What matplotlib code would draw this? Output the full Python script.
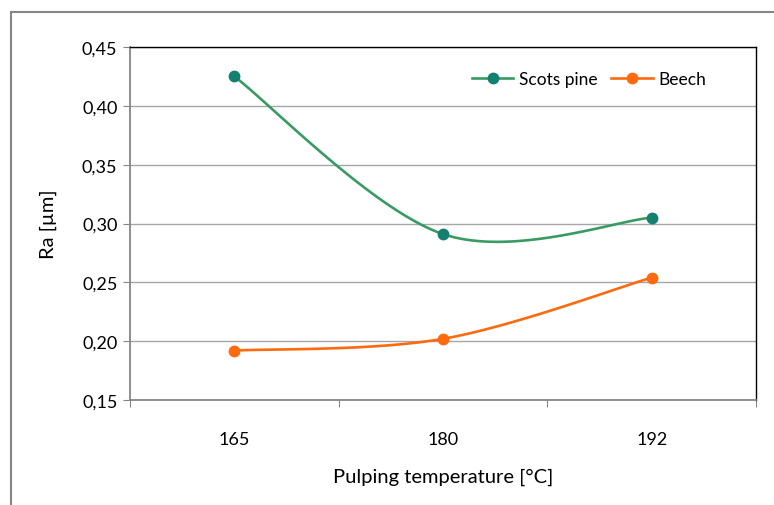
import matplotlib.pyplot as plt
import numpy as np
from matplotlib.lines import Line2D

categories = ["165", "180", "192"]
scots_pine = [0.425, 0.291, 0.305]
beech = [0.192, 0.202, 0.254]

plt.rcParams["font.family"] = ["Lato", "DejaVu Sans"]


def smooth(xs, ys, n=40):
    # Excel-style smoothed line: cubic Bezier through points
    xs = np.asarray(xs, float)
    ys = np.asarray(ys, float)
    px, py = [], []
    m = len(xs)
    for i in range(m - 1):
        x0, y0 = xs[i], ys[i]
        x3, y3 = xs[i + 1], ys[i + 1]
        xp, yp = (xs[i - 1], ys[i - 1]) if i > 0 else (x0, y0)
        xn, yn = (xs[i + 2], ys[i + 2]) if i + 2 < m else (x3, y3)
        x1, y1 = x0 + (x3 - xp) / 6, y0 + (y3 - yp) / 6
        x2, y2 = x3 - (xn - x0) / 6, y3 - (yn - y0) / 6
        t = np.linspace(0, 1, n)
        bx = (1 - t) ** 3 * x0 + 3 * (1 - t) ** 2 * t * x1 + 3 * (1 - t) * t ** 2 * x2 + t ** 3 * x3
        by = (1 - t) ** 3 * y0 + 3 * (1 - t) ** 2 * t * y1 + 3 * (1 - t) * t ** 2 * y2 + t ** 3 * y3
        px.extend(bx)
        py.extend(by)
    return px, py


fig = plt.figure(figsize=(7.74, 5.06), dpi=100)
ax = fig.add_axes([130 / 774, 105 / 506, 626 / 774, 353 / 506])

x = np.arange(len(categories)) + 0.5
series = [
    ("Scots pine", scots_pine, "#3a9a64", "#138072"),
    ("Beech", beech, "#ff6a0f", "#ff6a0f"),
]
handles = []
for name, vals, lc, mc in series:
    sx, sy = smooth(x, vals)
    ax.plot(sx, sy, color=lc, lw=1.9, zorder=3)
    ax.plot(x, vals, "o", color=mc, ms=7.5, zorder=4)
    handles.append(Line2D([], [], color=lc, lw=1.9, marker="o", ms=7.5,
                          markerfacecolor=mc, markeredgecolor=mc, label=name))

ax.set_xlim(0, 3)
ax.set_ylim(0.15, 0.45)
ax.set_yticks(np.arange(0.15, 0.451, 0.05))
ax.set_yticklabels([f"{v:.2f}".replace(".", ",") for v in np.arange(0.15, 0.451, 0.05)])
ax.set_xticks([0, 1, 2, 3])
ax.set_xticklabels([])
ax.set_xticks(x, minor=True)
ax.set_xticklabels(categories, minor=True)
ax.tick_params(axis="x", which="minor", length=0, pad=22, labelsize=13)
ax.tick_params(axis="x", which="major", length=5, color="#868686", direction="out")
ax.tick_params(axis="y", length=5, color="#868686", labelsize=13, pad=4)
ax.grid(axis="y", color="#a6a6a6", lw=1)
ax.set_axisbelow(True)

for s in ["top", "right"]:
    ax.spines[s].set_color("black")
    ax.spines[s].set_linewidth(1)
for s in ["left", "bottom"]:
    ax.spines[s].set_color("#868686")
    ax.spines[s].set_linewidth(1.3)

ax.set_xlabel("Pulping temperature [°C]", fontsize=14.5, labelpad=15)
ax.set_ylabel("Ra [µm]", fontsize=14.5, labelpad=18)

ax.legend(handles=handles, loc="upper right", bbox_to_anchor=(0.945, 0.975), ncol=2,
          frameon=False, fontsize=12.5, handlelength=2.4, handletextpad=0.3,
          columnspacing=0.8)

# outer chart border
fig.add_artist(Line2D([11 / 774, 11 / 774], [0, 1 - 13 / 506], color="#868686", lw=1.5))
fig.add_artist(Line2D([11 / 774, 1], [1 - 13 / 506, 1 - 13 / 506], color="#868686", lw=1.5))

fig.savefig("out.png", dpi=100)
